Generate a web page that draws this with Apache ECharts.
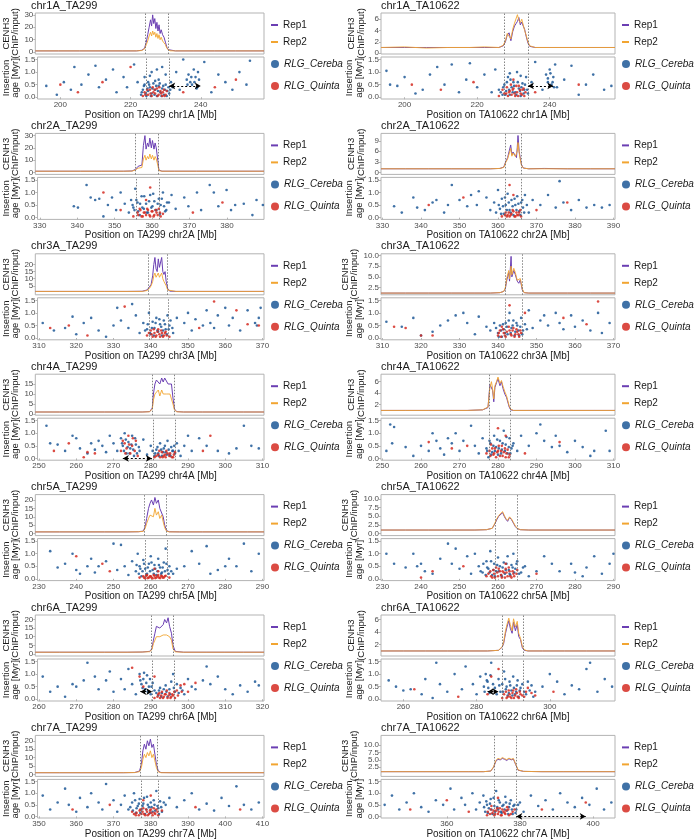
<!DOCTYPE html>
<html><head><meta charset="utf-8">
<script src="https://cdn.jsdelivr.net/npm/echarts@6/dist/echarts.min.js"></script>
<style>html,body{margin:0;padding:0;background:#fff}#c{width:700px;height:840px}</style>
</head><body><div id="c"></div>
<script>
// ---------- panel descriptors ----------
const titles = ['chr1A_TA299','chr1A_TA10622','chr2A_TA299','chr2A_TA10622','chr3A_TA299','chr3A_TA10622','chr4A_TA299','chr4A_TA10622','chr5A_TA299','chr5A_TA10622','chr6A_TA299','chr6A_TA10622','chr7A_TA299','chr7A_TA10622'];
const xNames = ['Position on TA299 chr1A [Mb]','Position on TA10622 chr1A [Mb]','Position on TA299 chr2A [Mb]','Position on TA10622 chr2A [Mb]','Position on TA299 chr3A [Mb]','Position on TA10622 chr3A [Mb]','Position on TA299 chr4A [Mb]','Position on TA10622 chr4A [Mb]','Position on TA299 chr5A [Mb]','Position on TA10622 chr5A [Mb]','Position on TA299 chr6A [Mb]','Position on TA10622 chr6A [Mb]','Position on TA299 chr7A [Mb]','Position on TA10622 chr7A [Mb]'];
const xMin = [193.5,193.5,329.4,329.6,309.6,309.6,249.6,249.6,229.6,229.6,259.6,253.9,349.6,342];
const xMax = [258,258,389.9,390.4,370.4,370.4,310.4,310.4,290.4,290.4,320.4,317.8,410.4,406];
const xTicks = [[200,220,240],[200,220,240],[330,340,350,360,370,380],[330,340,350,360,370,380,390],[310,320,330,340,350,360,370],[310,320,330,340,350,360,370],[250,260,270,280,290,300,310],[250,260,270,280,290,300,310],[230,240,250,260,270,280,290],[230,240,250,260,270,280,290],[260,270,280,290,300,310,320],[260,280,300],[350,360,370,380,390,400,410],[360,380,400]];
const yMin = [-1.5,-0.15,-1.6,-0.6,-1.4,0.8,-0.6,0.17,-1.2,-0.6,-1.2,0.2,-1.2,-0.6];
const yMax = [31.5,7.1,31.8,11.1,27.6,10.4,19.9,7.3,23.2,11.2,22.6,6.7,23.2,13.3];
const yTicks = [[0,10,20,30],[0,2,4,6],[0,10,20,30],[0,3,6,9],[0,5,10,15,20,25],[2.5,5,7.5,10],[0,5,10,15],[2,4,6],[0,5,10,15,20],[0,2.5,5,7.5,10],[0,5,10,15,20],[2,4,6],[0,5,10,15,20],[0,2.5,5,7.5,10,12.5]];
const yDec = [0,0,0,0,0,1,0,0,0,1,0,0,0,1];
const ageTicks = [0,0.5,1.0,1.5];
const cenL = [224.5,227.6,355.8,361.9,339.6,341.9,280.7,277.6,258.5,259.2,290.5,287.0,377.5,373];
const cenR = [231.0,234.0,361.9,366.0,344.8,346.4,286.6,283.3,264.4,264.9,296.4,292.7,382.0,379];
// arrows: panel index, from, to, age
const arrowPanel = [0,1,6,10,11,13];
const arrowFrom = [231,234,272.5,287.2,283,379];
const arrowTo = [240,241,280.3,290.4,286,398];
const arrowAge = [0.45,0.45,0.0,0.3,0.3,0.0];

// ---------- CENH3 profiles ----------
const p1Pos = [193.5,200,206,212,218,222,223.5,224.3,224.8,225.2,225.6,226,226.3,226.6,226.9,227.2,227.5,227.8,228.1,228.4,228.7,229,229.4,229.8,230.2,230.6,231,231.5,233,238,244,250,258];
const p1Rep1 = [1,1,1,1,1,1,1.5,3,8,14,20,26,21,30,23,27,19,24,17,22,15,18,14,12,8,4,2,1.2,1,1,1,1,1];
const p1Rep2 = [1,1,1,1,1,1,1.3,2.5,6,9,13,16,13,17,14,16,12,15,11,14,10,12,9,8,6,3,1.7,1.1,1,1,1,1,1];
const p2Pos = [193.5,200,206,212,218,222,226,227.2,227.8,228.3,228.8,229.3,229.8,230.3,230.7,231.1,231.5,231.9,232.3,232.7,233.1,233.5,234,234.5,236,240,246,252,258];
const p2Rep1 = [1,1,1,1,1,1,1,1.3,2,3.2,3.6,2.2,3.8,4.8,5.2,5.6,6.3,5,5.5,4.8,4.2,3,1.8,1.2,1,1,1,1,1];
const p2Rep2 = [1,1.1,0.9,1,1,1.1,1,1.4,2.2,3.5,3.3,2.5,4.2,5.3,5.6,6.8,5.8,5.4,6,5,4,3.2,2,1.3,1,1,1,1,1];
const p3Pos = [329.4,335.7,341.4,347,352.7,355,355.9,356.6,357.1,357.6,358,358.4,358.7,359.1,359.4,359.7,360.1,360.4,360.8,361.1,361.4,361.8,362.1,362.9,366.3,372,377.7,383.3,389.9];
const p3Rep1 = [1,1,1,1,1,1.2,2.5,5,4,6,22,30,19,24,21,28,20,26,19,24,20,10,2,1,1,1,1,1,1];
const p3Rep2 = [1,1,1,1,1,1.1,2,3.5,3,4,11,14,10,13,11,15,11,14,10,13,11,6,1.5,1,1,1,1,1,1];
const p4Pos = [329.6,336,342,348,354,358,360.5,361.5,362,362.5,363,363.3,363.6,363.9,364.2,364.5,364.8,365,365.2,365.5,365.8,366.1,366.6,368,372,378,384,390.4];
const p4Rep1 = [1,1,1,1,1,1,1.1,1.5,3,4.2,4.5,7.8,5,5.8,5.5,4.8,4.2,7,10.5,6,4,2.2,1.2,1,1.1,1,1,1];
const p4Rep2 = [1,1,1,1,1,1,1.1,1.4,2.8,3.8,4.2,6.8,4.6,5.5,5,4.5,4,6,8.5,5.5,3.6,2,1.2,1,1,1,1,1];
const p5Pos = [309.6,316,322,328,334,338,339.3,339.9,340.4,340.8,341.1,341.4,341.7,342,342.3,342.6,342.9,343.2,343.5,343.8,344.1,344.4,344.8,345.3,347,352,358,364,370.4];
const p5Rep1 = [1,1,1,1,1,1.1,2,4,6,12,20,25,17,15,24,18,19,25,15,13,15,8,3,1.2,1,1,1,1,1];
const p5Rep2 = [1,1,1,1,1,1,1.6,3,5,8,12,14,11,10,14,11,12,14,10,8,9,5,2,1,1,1,1,1,1];
const p6Pos = [309.6,316,322,328,334,338,340.5,341.5,341.9,342.3,342.8,343,343.4,343.6,344.1,344.5,345,345.4,345.8,346.3,346.8,348,353,358,364,370.4];
const p6Rep1 = [1.2,1.2,1.2,1.2,1.2,1.2,1.3,1.6,2.2,4.3,6,4,9.8,5,6.5,5.5,4,3.5,4.3,2,1.3,1.2,1.2,1.2,1.2,1.2];
const p6Rep2 = [1.2,1.2,1.2,1.2,1.2,1.2,1.3,1.6,2.5,4.8,6.5,4.5,7.5,5.5,7,6,4.2,3.8,4.6,2.2,1.3,1.2,1.2,1.2,1.2,1.2];
const p7Pos = [249.6,256,262,268,274,278,280,280.7,281,281.4,281.8,282.3,282.7,283.2,283.6,284,284.5,284.9,285.4,285.8,286.2,286.6,287.2,289,294,300,305,310.4];
const p7Rep1 = [1,1,1,1,1,1,1.2,3,10,15,17,18,15,18,16,18,17,15,16,15,8,2.5,1.2,1,1,1,1,1];
const p7Rep2 = [1,1,1,1,1,1,1.1,2.5,7,10,11,12,9,12,10,11,10,9,10,9,5,2,1.1,1,1,1,1,1];
const p8Pos = [249.6,256,262,268,272,276,277.4,277.9,278.3,278.6,278.9,279.2,279.6,280,280.5,280.9,281.3,281.8,282.2,282.9,283.3,284,288,294,300,305,310.4];
const p8Rep1 = [1,1,1,1,1,1.1,1.5,5.5,5.8,4.5,2.5,5,5.8,6.5,5.3,6,4.8,3.8,3.3,1.6,1.1,1,1,1,1,1,1];
const p8Rep2 = [1,1,1,1,1,1.1,1.6,5,6,4.7,3,5.3,6,6.8,5.7,6.2,5.2,4.2,3.6,1.8,1.2,1,1,1,1,1,1];
const p9Pos = [229.6,236,242,248,254,257,258.3,258.8,259.2,259.7,260.1,260.5,261,261.4,261.8,262.3,262.7,263.2,263.6,264,264.5,265.2,268,274,280,286,290.4];
const p9Rep1 = [1,1,1,1,1,1.1,1.5,4,9,15,18,20,17,21.5,18,20,15,16,10,5,1.8,1.1,1,1,1,1,1];
const p9Rep2 = [1,1,1,1,1,1.1,1.3,3,6,9,11,12,10,15,11,13,9,11,7,3.5,1.4,1,1,1,1,1,1];
const p10Pos = [229.6,236,242,248,254,257,258.5,259.2,259.7,260.2,260.7,261.2,261.6,262,262.5,263,263.5,264,264.5,265,265.8,268,274,280,286,290.4];
const p10Rep1 = [1,1,1,1,1,1.1,1.5,2.8,4,5,4.5,6,5,4.2,3.5,4.6,4,3,2,1.4,1.1,1,1,1,1,1];
const p10Rep2 = [1,1,1,1,1,1.1,1.5,3,4.3,5.2,4.8,6.3,5.3,4.4,3.8,4.8,4.2,3.2,2.2,1.5,1.1,1,1,1,1,1];
const p11Pos = [259.6,266,272,278,284,288,290,290.6,291,291.4,291.8,292.3,292.7,293.2,293.6,294,294.5,294.9,295.3,295.8,296.2,296.8,299,305,310,315,320.4];
const p11Rep1 = [1,1,1,1,1,1.1,1.5,3,8,12,16,17,15,14,17,20,18,21,16,12,5,1.5,1,1,1,1,1];
const p11Rep2 = [1,1,1,1,1,1.1,1.3,2.5,6,8,10,11,10,9,11,12,11,12,10,8,3,1.2,1,1,1,1,1];
const p12Pos = [253.9,260,266,272,278,283,286,287,287.4,287.9,288.3,288.8,289.2,289.7,290.1,290.6,291.1,291.5,292,292.5,293,294,298,304,310,317.8];
const p12Rep1 = [1,1,1,1,1,1,1.1,1.6,2.2,3.8,4.8,5.8,4.6,3.8,5.6,4.2,5.2,3.3,2.8,1.5,1.1,1,1,1,1,1];
const p12Rep2 = [1,1,1,1,1,1,1.1,1.7,2.4,4.2,5.2,6.2,5.2,4.2,6.1,4.8,5.7,3.8,3,1.7,1.2,1,1,1,1,1];
const p13Pos = [349.6,356,362,368,373,376,377.3,377.8,378.2,378.6,379,379.4,379.8,380.2,380.6,381,381.4,381.8,382.3,383,386,392,398,404,410.4];
const p13Rep1 = [1,1,1,1,1,1.1,2,6,14,18,15,20,17,21,16,18,12,6,2,1.1,1,1,1,1,1];
const p13Rep2 = [1,1,1,1,1,1.1,1.6,4,9,12,10,13,11,14,10,12,8,4,1.5,1,1,1,1,1,1];
const p14Pos = [342,348,354,360,366,370,372,372.8,373.4,374,374.6,375.2,375.8,376.4,377,377.6,378.2,378.8,379.5,381,386,392,398,406];
const p14Rep1 = [1,1,1,1,1,1,1.2,2.5,4.5,5.2,5,5.5,5.2,4.8,5.4,5,5.3,3.5,1.5,1.1,1,1,1,1];
const p14Rep2 = [1,1,1,1,1,1,1.2,2.7,4.8,5.5,5.2,5.8,5.4,5.1,5.6,5.2,5.5,3.7,1.6,1.1,1,1,1,1];

// ---------- insertion ages ----------
const p1Cereba = [[196,0.45],[199,0.1],[201,0.6],[203,0.3],[204,1.2],[206,0.5],[208,0.9],[210,1.25],[211,0.4],[213,0.7],[215,1.1],[216,0.2],[218,0.8],[219,0.4],[221,1.3],[222,0.6],[223,0.1],[223.5,0.3],[224,0.5],[224.5,0.05],[225,0.25],[225.5,0.4],[226,0.15],[226.5,0.55],[227,0.3],[227.5,0.05],[228,0.45],[228.5,0.2],[229,0.35],[229.5,0.1],[230,0.5],[230.5,0.25],[231,0.15],[232,0.4],[224,0.8],[226,1.0],[228,0.7],[229,1.2],[230,0.9],[225,0.6],[227,0.65],[231.5,0.6],[233,1.0],[234,0.3],[235,1.5],[236,0.7],[236.5,0.9],[237,0.6],[237.5,0.5],[238,1.1],[238.5,0.8],[239,0.4],[239.5,0.7],[241,1.4],[243,0.2],[245,0.9],[247,0.6],[249,0.3],[251,1.0],[253,0.5],[254,1.45],[223.2,0.2],[223.8,0.45],[224.3,0.15],[224.8,0.35],[225.3,0.5],[225.8,0.05],[226.2,0.35],[226.8,0.1],[227.3,0.45],[227.8,0.25],[228.3,0.55],[228.8,0.05],[229.3,0.45],[229.8,0.3],[230.3,0.05],[230.8,0.4],[231.3,0.3],[225.5,0.85],[227.5,1.1],[236.2,0.5],[237.3,0.8],[238.2,0.6],[239.2,1.0],[238.8,0.35]];
const p1Quinta = [[200,0.5],[205,0.2],[212,0.6],[220,1.2],[223.5,0.05],[224,0.2],[225,0.1],[225.5,0.3],[226,0.05],[226.5,0.2],[227,0.15],[227.5,0.35],[228,0.1],[228.5,0.25],[229,0.05],[229.5,0.3],[230,0.1],[235,0.2],[244,0.4],[250,0.7],[224.2,0.1],[224.7,0.3],[225.7,0.15],[226.3,0.4],[226.8,0.3],[227.7,0.05],[228.2,0.4],[228.7,0.15],[229.2,0.2],[229.7,0.05],[230.3,0.25]];
const p2Cereba = [[195,1.05],[196,0.5],[198,0.45],[200,0.8],[203,0.15],[205,0.3],[207,0.9],[209,1.2],[211,0.5],[213,1.3],[215,0.2],[217,0.7],[218,1.35],[220,0.4],[222,0.9],[224,0.2],[225,1.1],[226,0.3],[227,0.1],[227.5,0.5],[228,0.25],[228.5,0.8],[229,0.1],[229.5,0.4],[230,0.6],[230.5,0.2],[231,1.0],[231.5,0.35],[232,0.05],[232.5,0.55],[233,0.3],[233.5,0.8],[234,0.15],[235,0.6],[236,1.4],[238,0.3],[239,0.9],[239.5,0.6],[240,1.1],[240.5,0.5],[241,0.8],[241.5,1.3],[242,0.4],[244,0.7],[246,1.25],[248,0.1],[250,0.5],[252,0.9],[255,0.3],[257,0.45],[226.5,0.2],[227.2,0.4],[227.8,0.1],[228.2,0.6],[228.8,0.3],[229.2,0.7],[229.8,0.2],[230.2,0.45],[230.8,0.1],[231.2,0.6],[231.8,0.25],[232.2,0.4],[232.8,0.15],[233.2,0.5],[233.8,0.3],[229,0.95],[232,0.85],[239.5,0.75],[240.2,0.95],[240.8,0.6],[241.2,0.4]];
const p2Quinta = [[202,0.5],[210,0.3],[219,0.6],[226,0.05],[227,0.3],[228,0.15],[228.5,0.05],[229,0.25],[229.5,0.1],[230,0.35],[230.5,0.05],[231,0.2],[231.5,0.45],[232,0.15],[232.5,0.3],[233,0.05],[230,0.7],[236,0.2],[248,0.5],[227.5,0.15],[228.2,0.4],[228.8,0.2],[229.3,0.5],[229.8,0.3],[230.3,0.15],[230.8,0.45],[231.3,0.05],[231.8,0.3],[232.3,0.1],[232.8,0.35],[233.3,0.2]];
const p3Cereba = [[339.1,0.45],[340.2,0.4],[342.5,1.3],[343.6,0.8],[344.8,0.7],[345.9,0.75],[347,0.05],[348.2,0.5],[349.3,0.8],[350.4,0.3],[351.6,1.0],[352.7,0.55],[353.8,0.2],[354.4,0.7],[355,0.4],[355.5,1.15],[356.1,0.6],[356.7,0.1],[357.2,0.85],[357.8,0.35],[358.4,0.55],[358.9,0.2],[359.5,0.9],[360.1,0.45],[360.6,0.65],[361.2,0.3],[361.8,0.75],[362.3,0.5],[362.9,1.0],[363.5,0.25],[364,0.6],[365.2,0.9],[366.3,0.35],[368.6,0.8],[369.7,0.45],[372,1.0],[373.1,0.3],[375.4,1.3],[376.5,1.0],[377.7,0.45],[379.9,1.1],[381.1,0.3],[382.2,0.5],[384.5,0.55],[386.8,0.1],[387.9,0.7],[389.6,0.5],[354.8,0.5],[355.3,0.3],[355.8,0.7],[356.3,0.25],[356.8,0.55],[357.4,0.4],[357.9,0.85],[358.6,0.2],[359.2,0.65],[359.8,0.4],[360.3,0.95],[360.9,0.3],[361.5,0.55],[362.1,0.15],[362.6,0.75],[363.2,0.45],[363.8,0.3],[364.5,0.6]];
const p3Quinta = [[347,1.0],[351.6,0.3],[355,0.05],[356.1,0.2],[356.7,0.35],[357.2,0.05],[357.8,0.2],[358.4,0.1],[358.9,0.3],[359.5,0.05],[360.1,0.25],[360.6,0.1],[361.2,0.2],[361.8,0.35],[362.3,0.05],[362.9,0.15],[359.5,1.2],[358.4,0.7],[370.9,0.2],[378.8,0.6],[356.3,0.1],[356.9,0.3],[357.5,0.05],[358.1,0.2],[358.7,0.35],[359.3,0.1],[359.9,0.25],[360.4,0.05],[361,0.3],[361.5,0.1],[362.1,0.2]];
const p4Cereba = [[333,0.45],[335,0.2],[338,0.8],[339,0.4],[341,0.3],[343,0.6],[344,0.7],[346,0.2],[347,0.5],[348,1.3],[350,0.7],[352,0.45],[353,0.9],[354.5,0.5],[355,1.05],[357,0.8],[358,0.3],[359,0.6],[360,1.1],[360.5,0.35],[361,0.75],[361.5,0.15],[362,0.5],[362.5,0.95],[363,0.3],[363.5,0.7],[364,0.1],[364.5,0.5],[365,0.85],[365.5,0.25],[366,0.6],[366.5,0.4],[367,0.9],[368,0.2],[369,0.7],[371,0.5],[373,0.9],[375,0.4],[376,1.45],[377,0.6],[379,0.3],[381,0.7],[383,0.4],[385,0.5],[387,0.4],[389,0.5],[359.5,0.2],[360.2,0.5],[360.8,0.15],[361.3,0.45],[361.8,0.8],[362.3,0.3],[362.8,0.6],[363.3,0.2],[363.8,0.45],[364.3,0.75],[364.8,0.3],[365.3,0.55],[365.8,0.1],[366.3,0.7],[366.8,0.2],[367.5,0.5]];
const p4Quinta = [[342,0.5],[351,0.8],[361,0.05],[362,0.2],[362.5,0.1],[363,0.05],[363.5,0.15],[364,0.25],[364.5,0.05],[365,0.1],[365.5,0.2],[366,0.05],[363,1.3],[364,0.9],[370,0.3],[378,0.6],[361.8,0.1],[362.3,0.05],[362.8,0.2],[363.3,0.1],[363.8,0.3],[364.3,0.05],[364.8,0.2],[365.3,0.1],[365.8,0.3]];
const p5Cereba = [[311,0.6],[314,0.3],[317,0.4],[319,0.85],[320,0.15],[322,0.6],[324,0.8],[326,0.3],[328,0.05],[330,0.5],[331,1.2],[332,0.7],[334,0.4],[335,1.35],[336,0.9],[337,0.2],[338,0.6],[339,0.35],[339.5,1.0],[340,0.15],[340.5,0.65],[341,0.4],[341.5,0.8],[342,0.25],[342.5,0.55],[343,0.1],[343.5,0.7],[344,0.35],[344.5,0.9],[345,0.5],[346,0.2],[347,0.8],[349,0.6],[350,1.0],[351,0.3],[352,0.75],[354,0.5],[355,1.1],[356,0.6],[357,0.4],[358,0.9],[360,1.2],[361,0.5],[362,0.8],[364,0.3],[366,1.1],[368,0.6],[368.5,0.5],[369,0.8],[369.5,1.2],[338.5,0.3],[339.2,0.55],[339.8,0.2],[340.3,0.4],[340.8,0.1],[341.3,0.6],[341.8,0.3],[342.3,0.75],[342.8,0.45],[343.3,0.3],[343.8,0.55],[344.3,0.15],[344.8,0.35],[345.3,0.7],[345.8,0.4]];
const p5Quinta = [[313,0.4],[318,0.5],[323,0.1],[333,1.25],[339,0.1],[340,0.3],[340.5,0.05],[341,0.2],[341.5,0.1],[342,0.35],[342.5,0.05],[343,0.2],[343.5,0.1],[344,0.25],[345,0.05],[353,0.4],[357,1.45],[363,1.1],[366,0.55],[369,0.5],[339.5,0.2],[340.2,0.15],[340.8,0.35],[341.3,0.05],[341.8,0.25],[342.3,0.15],[342.8,0.3],[343.3,0.05],[343.8,0.2],[344.3,0.1]];
const p6Cereba = [[311,0.65],[315,0.45],[318,0.8],[320,0.1],[323,0.25],[325,0.5],[327,0.7],[329,0.9],[331,1.0],[332,0.6],[334,0.15],[335,0.85],[337,0.45],[338,0.3],[339,0.6],[340,0.2],[340.5,0.5],[341,0.05],[341.5,0.35],[342,0.6],[342.5,0.15],[343,1.0],[343.5,0.4],[344,0.7],[344.5,0.25],[345,0.5],[345.5,0.1],[346,0.8],[346.5,0.3],[347,0.55],[348,1.1],[349,0.4],[351,0.7],[352,0.9],[353,0.5],[355,1.0],[356,0.6],[357,0.35],[359,0.9],[360,0.45],[362,0.7],[364,0.3],[366,1.0],[367,0.2],[369,0.6],[339.5,0.4],[340.2,0.05],[340.8,0.3],[341.3,0.55],[341.8,0.2],[342.3,0.45],[342.8,0.7],[343.3,0.2],[343.8,0.5],[344.3,0.1],[344.8,0.6],[345.3,0.3],[345.8,0.45],[346.3,0.15],[347.5,0.35]];
const p6Quinta = [[313,0.45],[316,0.4],[320,0.1],[323,0.1],[340,0.1],[340.5,0.3],[341,0.45],[341.5,0.2],[342,0.05],[343,0.3],[343.5,0.1],[344,0.4],[344.5,0.15],[345,0.25],[345.5,0.05],[346,0.2],[343,1.3],[347,1.0],[357,0.8],[363,0.55],[366,1.45],[340.2,0.2],[340.8,0.05],[341.3,0.35],[341.8,0.1],[342.3,0.25],[342.8,0.45],[343.3,0.15],[343.8,0.3],[344.3,0.05],[344.8,0.35],[345.3,0.15],[345.8,0.3]];
const p7Cereba = [[252,1.3],[253,0.6],[255,0.55],[257,0.3],[259,0.9],[260,0.8],[261,0.4],[263,0.2],[264,0.6],[265,0.35],[266,0.7],[267,0.5],[268,0.25],[269,0.9],[270,0.6],[271,0.3],[272,0.8],[272.5,0.5],[273,1.0],[273.5,0.2],[274,0.65],[274.5,0.4],[275,0.9],[275.5,0.1],[276,0.55],[277,0.3],[278,0.75],[279,0.15],[280,0.5],[281,0.1],[281.5,0.35],[282,0.2],[282.5,0.6],[283,0.1],[283.5,0.4],[284,0.25],[284.5,0.7],[285,0.15],[285.5,0.45],[286,0.3],[286.5,0.2],[287,0.6],[288,0.1],[289,0.5],[290,0.9],[291,0.3],[293,0.8],[295,0.5],[298,0.3],[301,0.2],[303,0.4],[305,1.3],[307,0.5],[309,0.4],[272.3,0.6],[272.8,0.3],[273.3,0.75],[273.8,0.45],[274.3,0.2],[274.8,0.55],[275.3,0.35],[275.8,0.8],[276.3,0.2],[276.8,0.45],[280.5,0.3],[281.2,0.2],[281.8,0.45],[282.2,0.1],[282.8,0.35],[283.3,0.25],[283.8,0.5],[284.3,0.15],[284.8,0.35],[285.3,0.1],[285.8,0.3],[286.3,0.5],[287.5,0.3]];
const p7Quinta = [[254,0.3],[258,0.6],[262,0.05],[263,0.25],[265,0.2],[272,0.3],[273,0.6],[273.5,0.4],[274,0.9],[274.5,0.2],[275,0.5],[276,0.7],[281,0.05],[282,0.15],[282.5,0.05],[283,0.25],[283.5,0.1],[284,0.05],[284.5,0.2],[285,0.1],[286,0.05],[286.5,0.25],[294,0.3],[296,0.9],[272.5,0.7],[273.2,0.2],[274.2,0.55],[275.2,0.8],[275.7,0.3],[276.5,0.1],[281.5,0.1],[282.3,0.3],[283.2,0.05],[283.8,0.15],[284.2,0.3],[285.2,0.2],[285.7,0.05],[286.2,0.15]];
const p8Cereba = [[251,0.3],[252,1.35],[252.5,0.6],[253,1.25],[256,0.45],[258,0.1],[260,0.5],[262,0.3],[263,1.0],[264,0.7],[265,0.4],[266,0.15],[267,0.8],[268,0.6],[269,1.0],[270,0.3],[271,0.7],[273,1.3],[274,0.5],[275,0.2],[276,0.8],[277,0.4],[277.5,0.05],[278,0.6],[278.5,0.25],[279,0.9],[279.5,0.45],[280,0.15],[280.5,0.7],[281,0.35],[281.5,1.1],[282,0.55],[282.5,0.2],[283,0.8],[283.5,0.4],[284,0.6],[285,0.3],[286,0.9],[288,0.5],[290,1.0],[291,1.35],[292,0.7],[294,0.45],[295,0.9],[296,0.5],[298,0.25],[300,0.7],[302,0.45],[304,0.1],[305,0.3],[308,1.1],[309,0.3],[277.2,0.3],[277.8,0.7],[278.2,0.15],[278.8,0.5],[279.2,0.3],[279.8,0.75],[280.2,0.4],[280.8,0.2],[281.2,0.6],[281.8,0.3],[282.2,0.85],[282.8,0.45],[283.2,0.2],[283.8,0.5]];
const p8Quinta = [[262,0.65],[268,0.4],[272,0.5],[277,0.2],[278,0.1],[278.5,0.4],[279,0.2],[279.5,0.05],[280,0.3],[280.5,0.1],[281,0.5],[281.5,0.25],[282,0.05],[282.5,0.35],[283,0.15],[280,1.2],[282,0.9],[287,0.2],[296,0.65],[277.8,0.3],[278.2,0.55],[278.8,0.15],[279.2,0.4],[279.8,0.25],[280.2,0.5],[280.8,0.3],[281.2,0.1],[281.8,0.4],[282.2,0.2],[282.8,0.05]];
const p9Cereba = [[233,1.1],[235,0.45],[237,0.6],[239,1.0],[240,0.35],[241,0.2],[243,0.5],[244,0.8],[245,0.25],[246,0.5],[248,0.7],[250,1.4],[251,0.35],[252,1.35],[253,0.5],[254,0.15],[255,0.7],[256,0.3],[256.5,1.0],[257,0.5],[257.5,0.1],[258,0.75],[258.5,0.4],[259,0.2],[259.5,0.6],[260,0.9],[260.5,0.35],[261,0.55],[261.5,0.15],[262,0.8],[262.5,0.45],[263,0.25],[263.5,0.65],[264,1.2],[264.5,0.35],[265,0.5],[266,0.2],[267,0.4],[269,0.5],[271,1.1],[273,0.6],[275,1.3],[276,0.2],[278,0.35],[280,0.5],[281,0.8],[283,0.5],[285,1.4],[287,0.3],[289,1.0],[256.2,0.55],[256.8,0.2],[257.2,0.4],[257.8,0.3],[258.2,0.6],[258.8,0.15],[259.2,0.45],[259.8,0.3],[260.2,0.65],[260.8,0.2],[261.2,0.4],[261.8,0.3],[262.2,0.55],[262.8,0.2],[263.2,0.45],[263.8,0.3],[264.2,0.6],[264.8,0.2],[265.5,0.3]];
const p9Quinta = [[240,0.9],[247,0.6],[249,0.3],[257,0.05],[258,0.1],[258.5,0.02],[259,0.15],[259.5,0.05],[260,0.1],[260.5,0.02],[261,0.12],[261.5,0.05],[262,0.15],[262.5,0.03],[263,0.1],[263.5,0.05],[264,0.12],[265,0.05],[261,0.4],[262,0.3],[258.2,0.05],[258.8,0.12],[259.2,0.03],[259.8,0.1],[260.2,0.05],[260.8,0.15],[261.2,0.03],[261.8,0.1],[262.2,0.05],[262.8,0.12],[263.2,0.05],[263.8,0.1]];
const p10Cereba = [[231,1.0],[233,0.6],[236,0.45],[238,1.0],[239,0.5],[240,0.6],[241,0.3],[243,0.2],[245,0.8],[247,1.4],[248,0.6],[249,1.2],[250,0.4],[252,0.9],[253,0.2],[254,1.0],[255,0.5],[256,0.25],[257,0.7],[257.5,0.4],[258,1.1],[258.5,0.15],[259,0.6],[259.5,0.3],[260,0.85],[260.5,0.5],[261,0.1],[261.5,0.65],[262,0.35],[262.5,0.9],[263,0.2],[263.5,0.55],[264,1.0],[264.5,0.4],[265,0.7],[266,0.25],[267,0.5],[268,0.1],[270,0.3],[272,0.9],[274,0.6],[276,0.3],[279,0.6],[280,0.25],[282,0.1],[283,0.45],[285,0.9],[287,0.2],[289,0.6],[290,1.0],[255.5,0.3],[256.2,0.6],[256.8,0.15],[257.2,0.45],[257.8,0.25],[258.2,0.7],[258.8,0.35],[259.2,0.1],[259.8,0.55],[260.2,0.3],[260.8,0.15],[261.2,0.45],[261.8,0.2],[262.2,0.6],[262.8,0.35],[263.2,0.15],[263.8,0.45],[264.2,0.25],[264.8,0.6],[265.5,0.2],[266.5,0.45]];
const p10Quinta = [[240,0.05],[243,0.3],[251,0.5],[257,0.1],[258,0.3],[258.5,0.05],[259,0.2],[259.5,0.45],[260,0.1],[260.5,0.3],[261,0.05],[261.5,0.25],[262,0.4],[262.5,0.1],[263,0.3],[263.5,0.05],[264,0.2],[265,0.35],[262,0.6],[270,0.2],[257.5,0.2],[258.2,0.1],[258.8,0.35],[259.2,0.05],[259.8,0.25],[260.2,0.4],[260.8,0.15],[261.2,0.3],[261.8,0.05],[262.2,0.25],[262.8,0.45],[263.2,0.1],[263.8,0.3],[264.2,0.1],[264.8,0.2]];
const p11Cereba = [[261,0.9],[263,0.3],[265,0.5],[267,0.1],[269,0.6],[270,0.5],[272,0.75],[273,1.45],[275,0.9],[276,0.4],[278,0.75],[279,1.1],[280,0.3],[282,0.8],[283,0.4],[284,1.2],[285,0.6],[286,0.2],[287,1.0],[287.5,0.6],[288,0.8],[288.5,0.4],[289,0.95],[289.5,0.5],[290,0.2],[290.5,0.65],[291,0.35],[292,0.15],[292.5,0.45],[293,0.25],[294,0.55],[294.5,0.1],[295,0.4],[295.5,0.7],[296,1.0],[296.5,0.3],[297,0.6],[298,0.45],[299,0.2],[300,0.8],[301,0.5],[302,0.4],[304,0.75],[305,1.3],[306,0.6],[308,0.9],[310,0.4],[312,0.2],[314,0.55],[316,0.3],[318,0.7],[319,0.55],[287.2,0.75],[287.8,0.45],[288.2,1.05],[288.8,0.65],[289.2,0.3],[289.8,0.8],[290.2,0.5],[291.5,0.25],[292.2,0.35],[292.8,0.1],[293.5,0.4],[294.2,0.3],[295.2,0.2],[296.2,0.45],[297.5,0.25],[298.5,0.35]];
const p11Quinta = [[287,0.9],[288,0.5],[291,0.05],[292,0.2],[292.5,0.05],[293,0.3],[293.5,0.1],[294,0.2],[294.5,0.05],[295,0.25],[295.5,0.1],[296,0.15],[296.5,0.05],[297,0.35],[298,0.55],[299,0.6],[300,0.3],[302,0.65],[285,1.25],[291,0.9],[291.8,0.1],[292.3,0.25],[292.8,0.15],[293.3,0.05],[293.8,0.2],[294.3,0.35],[294.8,0.15],[295.3,0.05],[295.8,0.2],[296.3,0.3],[297.3,0.15],[298.3,0.3]];
const p12Cereba = [[256,0.75],[258,0.5],[260,0.35],[262,0.4],[265,0.2],[266,0.8],[268,0.05],[269,1.45],[270,0.6],[272,0.3],[274,1.0],[276,0.4],[277,1.3],[279,0.6],[280,0.2],[281,0.9],[282,0.5],[282.5,1.0],[283,0.7],[283.5,0.25],[284,1.45],[285,0.45],[286,0.8],[286.5,0.3],[287,0.6],[287.5,1.1],[288,0.4],[288.5,0.15],[289,0.7],[289.5,0.35],[290,0.9],[290.5,0.2],[291,0.55],[291.5,0.1],[292,0.45],[293,0.3],[294,0.7],[295,0.55],[296,0.3],[298,0.5],[300,1.0],[302,0.7],[304,0.2],[306,0.55],[308,0.4],[310,1.2],[311,1.45],[313,0.3],[315,0.8],[317,0.5],[282.2,0.3],[282.8,0.75],[283.2,0.45],[283.8,0.95],[284.5,0.6],[285.5,0.2],[286.2,0.55],[287.2,0.3],[287.8,0.8],[288.2,0.5],[288.8,0.25],[289.2,0.55],[289.8,0.15],[290.2,0.45],[290.8,0.3],[291.2,0.75],[291.8,0.35],[292.5,0.6],[293.5,0.2],[294.5,0.35],[295.5,0.1]];
const p12Quinta = [[263,0.4],[275,0.1],[283,0.2],[284,0.9],[287,0.05],[288,0.3],[288.5,0.1],[289,0.2],[289.5,0.05],[290,0.35],[290.5,0.15],[291,0.25],[291.5,0.05],[292,0.2],[293,0.1],[294,0.45],[296,0.15],[286,1.2],[301,0.3],[287.5,0.2],[288.2,0.05],[288.8,0.35],[289.2,0.1],[289.8,0.25],[290.2,0.05],[290.8,0.4],[291.2,0.1],[291.8,0.3],[292.5,0.15],[293.5,0.3],[295,0.25]];
const p13Cereba = [[351,0.9],[353,0.3],[355,0.6],[357,1.2],[358,0.5],[360,0.2],[361,0.8],[363,0.4],[364,1.0],[366,0.6],[367,0.3],[368,1.4],[370,0.7],[371,0.2],[372,0.5],[373,0.9],[374,0.3],[375,0.6],[375.5,1.0],[376,0.15],[376.5,0.45],[377,0.75],[377.5,0.3],[378,0.55],[378.5,0.1],[379,0.85],[379.5,0.4],[380,0.6],[380.5,0.2],[381,0.5],[381.5,1.1],[382,0.35],[382.5,0.65],[383,0.2],[384,0.5],[385,0.8],[387,0.4],[389,0.7],[391,1.0],[393,0.3],[395,0.55],[397,0.25],[399,0.8],[401,0.45],[403,1.3],[405,0.5],[407,0.3],[409,0.6],[374.5,0.4],[375.2,0.25],[375.8,0.7],[376.2,0.35],[376.8,0.55],[377.2,0.15],[377.8,0.45],[378.2,0.8],[378.8,0.3],[379.2,0.5],[379.8,0.15],[380.2,0.4],[380.8,0.7],[381.2,0.25],[381.8,0.45],[382.2,0.1],[382.8,0.4],[383.5,0.6]];
const p13Quinta = [[359,0.3],[369,0.5],[375,0.2],[376,0.05],[377,0.25],[377.5,0.1],[378,0.35],[378.5,0.05],[379,0.2],[379.5,0.1],[380,0.3],[380.5,0.05],[381,0.15],[381.5,0.3],[382,0.05],[383,0.25],[378,0.7],[380,0.9],[392,0.4],[404,0.3],[375.5,0.1],[376.2,0.15],[376.8,0.05],[377.2,0.3],[377.8,0.2],[378.2,0.1],[378.8,0.3],[379.2,0.05],[379.8,0.25],[380.2,0.15],[380.8,0.35],[381.2,0.1],[381.8,0.2]];
const p14Cereba = [[343,0.5],[345,0.9],[347,0.3],[349,0.6],[351,1.0],[353,0.4],[355,0.2],[357,0.7],[359,0.5],[361,1.2],[362,0.3],[364,0.8],[365,0.5],[367,1.0],[368,0.3],[369,0.6],[370,0.9],[370.5,0.2],[371,0.5],[371.5,0.35],[372,0.75],[372.5,0.1],[373,0.45],[373.5,1.1],[374,0.3],[374.5,0.6],[375,0.15],[375.5,0.5],[376,0.85],[376.5,0.25],[377,0.4],[377.5,0.7],[378,0.1],[378.5,0.5],[379,0.3],[380,0.6],[381,0.2],[383,0.9],[385,0.45],[387,0.7],[389,0.3],[391,1.0],[393,0.6],[395,0.4],[397,0.8],[399,0.5],[401,1.2],[403,0.3],[405,0.6],[370.2,0.4],[370.8,0.65],[371.2,0.15],[371.8,0.55],[372.2,0.3],[372.8,0.8],[373.2,0.2],[373.8,0.4],[374.2,0.7],[374.8,0.2],[375.2,0.45],[375.8,0.3],[376.2,0.6],[376.8,0.1],[377.2,0.55],[377.8,0.3],[378.2,0.45],[378.8,0.15],[379.5,0.5]];
const p14Quinta = [[350,0.3],[360,0.7],[366,0.2],[371,0.05],[372,0.3],[372.5,0.15],[373,0.05],[373.5,0.25],[374,0.1],[374.5,0.35],[375,0.05],[375.5,0.2],[376,0.1],[376.5,0.4],[377,0.05],[378,0.2],[374,0.8],[386,0.3],[398,0.6],[371.2,0.2],[371.8,0.1],[372.2,0.45],[372.8,0.25],[373.2,0.1],[373.8,0.35],[374.2,0.2],[374.8,0.05],[375.2,0.3],[375.8,0.15],[376.2,0.25],[376.8,0.3],[377.5,0.1],[378.5,0.3]];

const posAll = [p1Pos,p2Pos,p3Pos,p4Pos,p5Pos,p6Pos,p7Pos,p8Pos,p9Pos,p10Pos,p11Pos,p12Pos,p13Pos,p14Pos];
const rep1All = [p1Rep1,p2Rep1,p3Rep1,p4Rep1,p5Rep1,p6Rep1,p7Rep1,p8Rep1,p9Rep1,p10Rep1,p11Rep1,p12Rep1,p13Rep1,p14Rep1];
const rep2All = [p1Rep2,p2Rep2,p3Rep2,p4Rep2,p5Rep2,p6Rep2,p7Rep2,p8Rep2,p9Rep2,p10Rep2,p11Rep2,p12Rep2,p13Rep2,p14Rep2];
const cerebaAll = [p1Cereba,p2Cereba,p3Cereba,p4Cereba,p5Cereba,p6Cereba,p7Cereba,p8Cereba,p9Cereba,p10Cereba,p11Cereba,p12Cereba,p13Cereba,p14Cereba];
const quintaAll = [p1Quinta,p2Quinta,p3Quinta,p4Quinta,p5Quinta,p6Quinta,p7Quinta,p8Quinta,p9Quinta,p10Quinta,p11Quinta,p12Quinta,p13Quinta,p14Quinta];

// ---------- styling / layout ----------
const FONT = 'Liberation Sans, Arial, sans-serif';
const C_REP1 = '#6b3fb3', C_REP2 = '#f2a531', C_CER = '#1d5896', C_QUI = '#d52b22';
const GRIDLEFT = [31, 381], GRIDW = [233, 234];
const ROW0 = 13, ROWSTEP = 120.4, TOPH = 41, GAP = 3, BOTH = 42;
const BORDER = '#b3b3b3', TICKTXT = '#4d4d4d';

const grid = [], xAxis = [], yAxis = [], series = [], title = [], legend = [];
for (let i = 0; i < 14; i++) {
  const col = i % 2, row = Math.floor(i / 2);
  const top = ROW0 + row * ROWSTEP, L = GRIDLEFT[col], W = GRIDW[col];
  const gTop = grid.length, gBot = gTop + 1;
  grid.push({left: L, top: top, width: W, height: TOPH, show: true, borderColor: BORDER, borderWidth: 1, backgroundColor: '#fff'});
  grid.push({left: L, top: top + TOPH + GAP, width: W, height: BOTH, show: true, borderColor: BORDER, borderWidth: 1, backgroundColor: '#fff'});
  xAxis.push({type: 'value', gridIndex: gTop, min: xMin[i], max: xMax[i], show: false, splitLine: {show: false}});
  xAxis.push({type: 'value', gridIndex: gBot, min: xMin[i], max: xMax[i],
    axisLine: {show: false}, splitLine: {show: false},
    axisTick: {show: true, length: 2, lineStyle: {color: BORDER}, customValues: xTicks[i]},
    axisLabel: {fontSize: 8, color: TICKTXT, margin: 2, fontFamily: FONT, customValues: xTicks[i]},
    name: xNames[i], nameLocation: 'middle', nameGap: 11, nameTextStyle: {fontSize: 10, color: '#1a1a1a', fontFamily: FONT}});
  const dec = yDec[i];
  yAxis.push({type: 'value', gridIndex: gTop, min: yMin[i], max: yMax[i],
    axisLine: {show: false}, splitLine: {show: false},
    axisTick: {show: true, length: 2, lineStyle: {color: BORDER}, customValues: yTicks[i]},
    axisLabel: {fontSize: 8, color: TICKTXT, margin: 2, fontFamily: FONT, customValues: yTicks[i], formatter: v => Number(v).toFixed(dec)},
    name: 'CENH3\n(ChIP/input)', nameLocation: 'middle', nameRotate: 90, nameGap: 15,
    nameTextStyle: {fontSize: 9.5, lineHeight: 9.5, color: '#1a1a1a', fontFamily: FONT}});
  yAxis.push({type: 'value', gridIndex: gBot, min: -0.07, max: 1.6,
    axisLine: {show: false}, splitLine: {show: false},
    axisTick: {show: true, length: 2, lineStyle: {color: BORDER}, customValues: ageTicks},
    axisLabel: {fontSize: 8, color: TICKTXT, margin: 2, fontFamily: FONT, customValues: ageTicks, formatter: v => Number(v).toFixed(1)},
    name: 'Insertion\nage [Myr]', nameLocation: 'middle', nameRotate: 90, nameGap: 15,
    nameTextStyle: {fontSize: 9.5, lineHeight: 9.5, color: '#1a1a1a', fontFamily: FONT}});

  const cenML = {silent: true, symbol: ['none', 'none'], label: {show: false},
    lineStyle: {type: [1.5, 1.5], color: '#666', width: 0.8}, data: [{xAxis: cenL[i]}, {xAxis: cenR[i]}]};

  series.push({name: 'Rep1', type: 'line', xAxisIndex: gTop, yAxisIndex: gTop, showSymbol: false, symbol: 'none',
    lineStyle: {width: 1, color: C_REP1}, itemStyle: {color: C_REP1},
    data: posAll[i].map((p, k) => [p, rep1All[i][k]]), markLine: cenML, z: 2});
  series.push({name: 'Rep2', type: 'line', xAxisIndex: gTop, yAxisIndex: gTop, showSymbol: false, symbol: 'none',
    lineStyle: {width: 1, color: C_REP2, opacity: 0.9}, itemStyle: {color: C_REP2},
    data: posAll[i].map((p, k) => [p, rep2All[i][k]]), z: 3});
  series.push({name: 'RLG_Cereba', type: 'scatter', xAxisIndex: gBot, yAxisIndex: gBot, symbolSize: 2.6,
    itemStyle: {color: C_CER, opacity: 0.85}, data: cerebaAll[i], markLine: cenML, z: 2});
  const q = {name: 'RLG_Quinta', type: 'scatter', xAxisIndex: gBot, yAxisIndex: gBot, symbolSize: 2.6,
    itemStyle: {color: C_QUI, opacity: 0.85}, data: quintaAll[i], z: 3};
  const ai = arrowPanel.indexOf(i);
  if (ai >= 0) {
    q.markLine = {silent: true, symbol: ['arrow', 'arrow'], symbolSize: [5, 6], label: {show: false},
      lineStyle: {type: [2, 2], color: '#000', width: 1},
      data: [[{coord: [arrowFrom[ai], arrowAge[ai]]}, {coord: [arrowTo[ai], arrowAge[ai]]}]]};
  }
  series.push(q);

  title.push({text: titles[i], left: L, top: top - 13, padding: 0,
    textStyle: {fontSize: 11, fontWeight: 'normal', color: '#1a1a1a', fontFamily: FONT}});

  const lx = L + W + 7;
  const items = [['Rep1', 12, 'rect', 7, 2, 'normal'], ['Rep2', 29, 'rect', 7, 2, 'normal'],
                 ['RLG_Cereba', 51, 'circle', 8, 8, 'italic'], ['RLG_Quinta', 73, 'circle', 8, 8, 'italic']];
  items.forEach(it => {
    legend.push({data: [it[0]], left: lx, top: top + it[1] - 7, padding: 0, orient: 'vertical',
      icon: it[2], itemWidth: it[3], itemHeight: it[4], selectedMode: false,
      textStyle: {fontSize: 10, lineHeight: 14, fontStyle: it[5], color: '#1a1a1a', fontFamily: FONT, padding: [0, 0, 0, 0]}});
  });
}

const chart = echarts.init(document.getElementById('c'), null, {renderer: 'canvas'});
chart.setOption({animation: false, backgroundColor: '#fff', textStyle: {fontFamily: FONT},
  grid, xAxis, yAxis, series, title, legend});
</script></body></html>
